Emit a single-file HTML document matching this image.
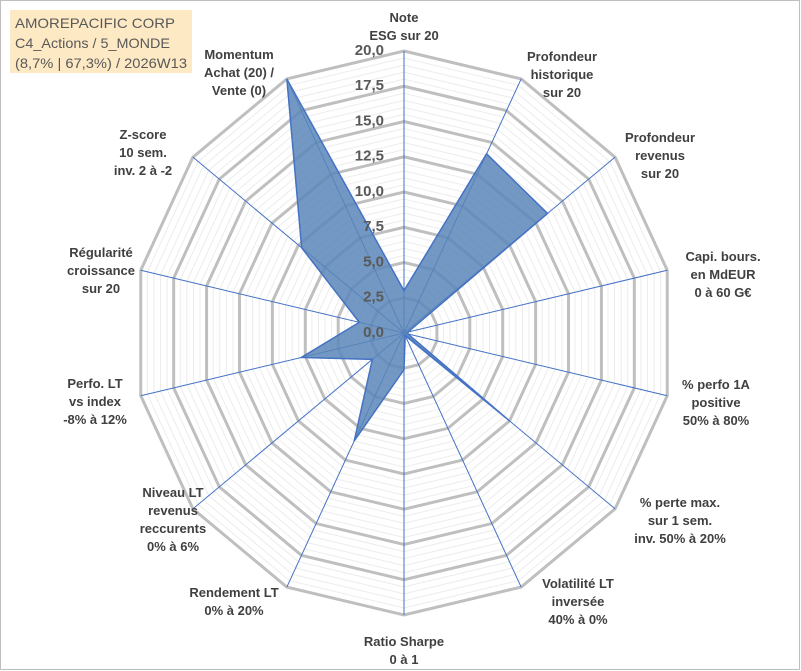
<!DOCTYPE html>
<html><head><meta charset="utf-8"><style>
html,body{margin:0;padding:0;background:#fff}
svg{display:block;font-family:"Liberation Sans",sans-serif}
</style></head><body>
<svg width="801" height="671" viewBox="0 0 801 671">
<rect x="0.5" y="0.5" width="799" height="669" fill="#fff" stroke="#bfbfbf"/>
<g id="grid"></g>
<g id="axes"></g>
<g id="series"></g>
<g id="ticks"></g>
<g id="labels"></g>
<rect x="10" y="10" width="182" height="63" fill="#fde9c4"/>
<text x="15" y="28" font-size="14" fill="#595959" textLength="160" lengthAdjust="spacingAndGlyphs">AMOREPACIFIC CORP</text>
<text x="15" y="48" font-size="14" fill="#595959" textLength="155" lengthAdjust="spacingAndGlyphs">C4_Actions / 5_MONDE</text>
<text x="15" y="68" font-size="14" fill="#595959" textLength="172" lengthAdjust="spacingAndGlyphs">(8,7% | 67,3%) / 2026W13</text>
</svg>
<script>
const categories = [["Note","ESG sur 20"],["Profondeur","historique","sur 20"],["Profondeur","revenus","sur 20"],["Capi. bours.","en MdEUR","0 à 60 G€"],["% perfo 1A","positive","50% à 80%"],["% perte max.","sur 1 sem.","inv. 50% à 20%"],["Volatilité LT","inversée","40% à 0%"],["Ratio Sharpe","0 à 1"],["Rendement LT","0% à 20%"],["Niveau LT","revenus","reccurents","0% à 6%"],["Perfo. LT","vs index","-8% à 12%"],["Régularité","croissance","sur 20"],["Z-score","10 sem.","inv. 2 à -2"],["Momentum","Achat (20) /","Vente (0)"]];
const values = [3.0,14.1,13.6,0.3,0.3,10.0,0.2,2.6,8.5,3.0,7.8,3.4,9.7,20.0];
const tickLabels = ["0,0","2,5","5,0","7,5","10,0","12,5","15,0","17,5","20,0"];
const labelPos = [[404,17],[562,56],[660,137],[723,256],[716,384],[680,502],[578,583],[404,641],[234,592],[173,492],[95,383],[101,252],[143,134],[239,54]];
const NS="http://www.w3.org/2000/svg";
const cx=404, cy=333, RX=270, RY=282, maxV=20, n=categories.length;
function pt(v,i){const a=2*Math.PI*i/n;const f=v/maxV;return [cx+f*RX*Math.sin(a), cy-f*RY*Math.cos(a)];}
function el(tag,attrs,parent){const e=document.createElementNS(NS,tag);for(const k in attrs)e.setAttribute(k,attrs[k]);parent.appendChild(e);return e;}
const grid=document.getElementById('grid');
for(let k=1;k<=40;k++){const v=k*0.5;const major=(k%5===0);
 const pts=[];for(let i=0;i<n;i++)pts.push(pt(v,i).join(','));
 const p=el('polygon',{points:pts.join(' '),fill:'none',stroke:major?'#bfbfbf':'#ececec','stroke-width':major?3:1},grid);
 
 }
const axes=document.getElementById('axes');
for(let i=0;i<n;i++){const [x,y]=pt(maxV,i);
 const l=el('line',{x1:cx,y1:cy,x2:x,y2:y,stroke:'#4472c4','stroke-width':1},axes);
 
 }
const series=document.getElementById('series');
const sp=values.map((v,i)=>pt(v,i).join(',')).join(' ');
const poly=el('polygon',{points:sp,fill:'#5b86b8','fill-opacity':0.85,stroke:'#4472c4','stroke-width':1.5},series);


const ticks=document.getElementById('ticks');
tickLabels.forEach((t,k)=>{const v=k*2.5;const y=cy-v/maxV*RY;
 const tx=el('text',{x:384,y:y,'text-anchor':'end','dominant-baseline':'middle','font-size':15,'font-weight':'bold',fill:'#595959'},ticks);
 tx.textContent=t;
 
 });
const labels=document.getElementById('labels');
categories.forEach((c,i)=>{const [x,y0]=labelPos[i];
 const t=el('text',{x:x,'text-anchor':'middle','font-size':13,'font-weight':'bold',fill:'#404040'},labels);
 
 
 c.forEach((line,j)=>{const ts=el('tspan',{x:x,y:y0+j*18+5},t);ts.textContent=line;});});
</script>
</body></html>
